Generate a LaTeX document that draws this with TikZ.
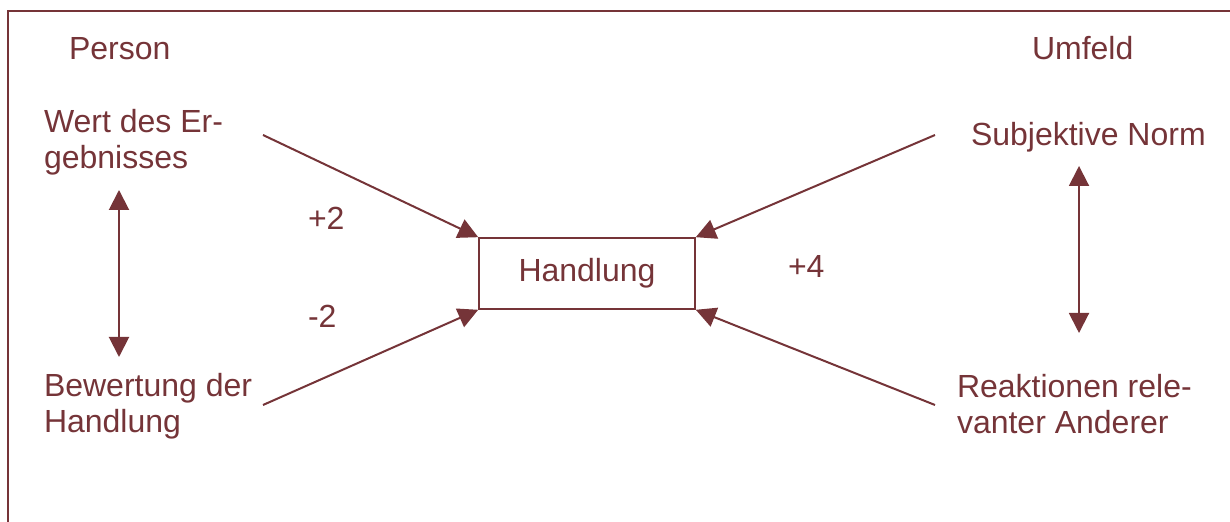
\documentclass[tikz,border=0pt]{standalone}
\usepackage{fontspec}
\setmainfont{Liberation Sans}
\usetikzlibrary{arrows.meta}
\definecolor{dunkelrot}{RGB}{117,52,56}
\tikzset{every picture/.style={line width=1pt}}

\begin{document}
\begin{tikzpicture}[x=0.5pt,y=0.5pt,yscale=-1,xscale=1,
	txt/.style={text=dunkelrot,font=\fontsize{16}{18}\selectfont,inner sep=0pt,anchor=base west,align=left},
	pfeil/.style={draw=dunkelrot,-{Triangle[length=10pt,width=10pt]}},
	doppelpfeil/.style={draw=dunkelrot,{Triangle[length=10pt,width=10pt]}-{Triangle[length=10pt,width=10pt]}}]
	\useasboundingbox (0,0) rectangle (1230,522);
	
	%Frame (top and left edge only)
	\draw [dunkelrot] (1230,11) -- (8,11) -- (8,522) ;
	
	%Shape: Rectangle
	\node [draw=dunkelrot,line width=0.8pt,minimum width=108pt,minimum height=35.5pt,inner sep=0pt,text=dunkelrot,font=\fontsize{16}{18}\selectfont] (handlung) at (587,273.5) {Handlung};
	
	% Text Node
	\node [txt] (person) at (68,60) {Person};
	% Text Node
	\node [txt] (umfeld) at (1031,60) {Umfeld};
	% Text Node (base = last line)
	\node [txt] (wert) at (43,169) {Wert des Er-\\gebnisses};
	% Text Node
	\node [txt] (bewertung) at (43,433) {Bewertung der\\Handlung};
	% Text Node
	\node [txt] (norm) at (970,146) {Subjektive Norm};
	% Text Node
	\node [txt] (reaktionen) at (956,434) {Reaktionen rele-\\vanter Anderer};
	% Text Node
	\node [txt] (plus2) at (307,230) {+2};
	% Text Node
	\node [txt] (minus2) at (307,328) {-2};
	% Text Node
	\node [txt] (plus4) at (787,278) {+4};
	
	%Line ends
	\coordinate (wert-e) at (263,135);
	\coordinate (bew-e) at (263,405);
	\coordinate (norm-e) at (935,135);
	\coordinate (reak-e) at (935,405);
	\coordinate (links-o) at (119,190);
	\coordinate (links-u) at (119,357);
	\coordinate (rechts-o) at (1079,166);
	\coordinate (rechts-u) at (1079,333);
	
	%Straight Lines
	\draw [pfeil] (wert-e) -- (handlung.north west) ;
	\draw [pfeil] (bew-e) -- (handlung.south west) ;
	\draw [pfeil] (norm-e) -- (handlung.north east) ;
	\draw [pfeil] (reak-e) -- (handlung.south east) ;
	\draw [doppelpfeil] (links-o) -- (links-u) ;
	\draw [doppelpfeil] (rechts-o) -- (rechts-u) ;
	
\end{tikzpicture}
\end{document}
